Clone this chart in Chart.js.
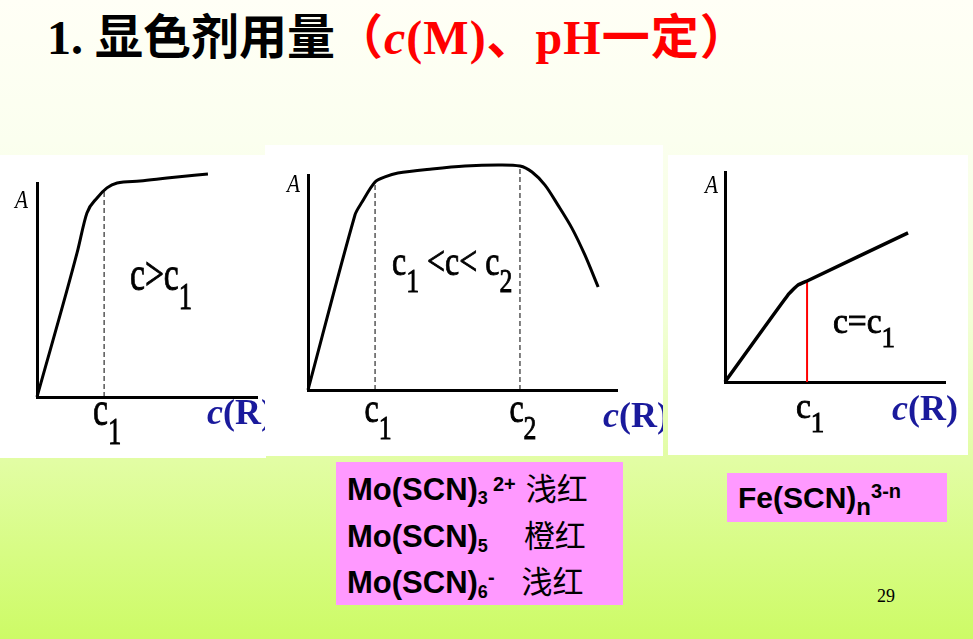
<!DOCTYPE html>
<html>
<head>
<meta charset="utf-8">
<script src="https://cdn.jsdelivr.net/npm/chart.js@4.4.1/dist/chart.umd.min.js"></script>
<style>
html, body { margin: 0; padding: 0; }
body {
    width: 973px; height: 639px; overflow: hidden; position: relative;
    background: linear-gradient(to bottom, #FFFFF6 0%, #FBFFEF 22%, #F2FFD6 50%, #E2FDA4 72%, #CDFB66 100%);
}
.panel { position: absolute; background: #fff; }
.panel canvas { display: block; }
#title {
    position: absolute; left: 47px; top: 12px; white-space: nowrap;
    font: bold 48px "Liberation Serif", "Noto Sans CJK SC"; line-height: 52px; color: #000;
}
#title .red { color: #f00; letter-spacing: 1px; }
.box { position: absolute; background: #FF99FF; }
.ln {
    position: absolute; left: 11px; white-space: nowrap; color: #000;
    font: bold 31px "Liberation Sans", Arial; line-height: 31px;
}
.ln span { line-height: 0; }
.cn { font: 400 31px "Noto Sans CJK SC"; }
#page { position: absolute; left: 877px; top: 586px; font: 18px "Liberation Serif"; color: #000; }
</style>
</head>
<body>

<div id="title">1. 显色剂用量<span class="red">（<i>c</i>(M)、pH一定）</span></div>

<div class="panel" style="left:0;top:155px;width:266px;height:303px;"><canvas id="c1" width="266" height="303"></canvas></div>
<div class="panel" style="left:265px;top:145px;width:398px;height:311px;"><canvas id="c2" width="398" height="311"></canvas></div>
<div class="panel" style="left:668px;top:155px;width:300px;height:300px;"><canvas id="c3" width="300" height="300"></canvas></div>

<div class="box" style="left:336px;top:462px;width:287px;height:143px;">
    <div class="ln" style="top:12px;">Mo(SCN)<span style="font-size:18px;vertical-align:-4px;">3</span><span style="font-size:20px;vertical-align:9px;margin-left:5px;">2+</span><span class="cn" style="margin-left:10px;">浅红</span></div>
    <div class="ln" style="top:59px;">Mo(SCN)<span style="font-size:18px;vertical-align:-5px;">5</span><span class="cn" style="margin-left:36px;">橙红</span></div>
    <div class="ln" style="top:105px;">Mo(SCN)<span style="font-size:18px;vertical-align:-5px;">6</span><span style="font-size:20px;vertical-align:9px;">-</span><span class="cn" style="margin-left:27px;">浅红</span></div>
</div>

<div class="box" style="left:727px;top:473px;width:220px;height:49px;">
    <div class="ln" style="top:10px;font-size:30px;line-height:30px;">Fe(SCN)<span style="font-size:24px;vertical-align:-7px;">n</span><span style="font-size:20px;vertical-align:10px;">3-n</span></div>
</div>

<div id="page">29</div>

<script>
// panel 1: A rises then levels off (c > c1)
const p1CurveX = [0, 1.82, 2.27, 2.73, 3.18, 3.64, 4.68, 5.91, 7.77];
const p1CurveY = [0, 6.73, 8.60, 9.30, 9.77, 10.0, 10.09, 10.23, 10.42];
const p1TickVals = [3.05];
const p1TickTops = [9.67];
const p1TickLabels = ['c_1'];

// panel 2: plateau between c1 and c2, then falls
const p2CurveX = [0, 1.52, 1.75, 2.17, 2.49, 2.91, 4.01, 5.08, 6.15, 6.86, 7.25, 7.67, 8.09, 8.54, 8.96, 9.39];
const p2CurveY = [0, 8.14, 8.74, 9.67, 9.91, 10.09, 10.28, 10.42, 10.47, 10.42, 10.14, 9.53, 8.60, 7.53, 6.28, 4.79];
const p2TickVals = [2.17, 6.86];
const p2TickTops = [9.67, 10.42];
const p2TickLabels = ['c_1', 'c_2'];

// panel 3: break at c1, keeps rising
const p3CurveX = [0, 2.86, 3.3, 3.73, 8.32];
const p3CurveY = [0, 4.14, 4.6, 4.81, 7.10];
const p3TickVals = [3.73];
const p3TickTops = [4.81];
const p3TickLabels = ['c_1'];

const notes = ['c>c_1', 'c_1 <c< c_2', 'c=c_1'];

const toPts = (xs, ys) => xs.map((x, i) => ({x: x, y: ys[i]}));

function drawMath(ctx, str, x, y, size, sx, align) {
    const parts = str.split(/_(\d)/);
    const mainFont = size + 'px "Liberation Serif", serif';
    const subFont = Math.round(size * 0.8) + 'px "Liberation Serif", serif';
    let w = 0;
    parts.forEach((p, i) => { ctx.font = i % 2 ? subFont : mainFont; w += ctx.measureText(p).width; });
    ctx.save();
    ctx.translate(x, y);
    ctx.scale(sx, 1);
    ctx.lineWidth = 0.9;
    ctx.strokeStyle = '#000';
    let cx = align === 'center' ? -w / 2 : 0;
    parts.forEach((p, i) => {
        ctx.font = i % 2 ? subFont : mainFont;
        const dy = i % 2 ? size * 0.4 : 0;
        ctx.fillText(p, cx, dy);
        ctx.strokeText(p, cx, dy);
        cx += ctx.measureText(p).width;
    });
    ctx.restore();
}

function drawCR(ctx, x, y, size) {
    ctx.fillStyle = '#1A1A9C';
    ctx.font = 'italic bold ' + size + 'px "Liberation Serif", serif';
    ctx.fillText('c', x, y);
    const w = ctx.measureText('c').width;
    ctx.font = 'bold ' + size + 'px "Liberation Serif", serif';
    ctx.fillText('(R)', x + w, y);
}

function makeChart(id, cfg) {
    const sets = [{
        data: toPts(cfg.xs, cfg.ys),
        borderColor: '#000', borderWidth: cfg.lineW, tension: cfg.tension,
        cubicInterpolationMode: cfg.mono ? 'monotone' : 'default'
    }];
    cfg.ticks.forEach((t, i) => {
        sets.push({
            data: toPts([t, t], [0, cfg.tops[i]]),
            borderColor: cfg.markColor, borderWidth: cfg.markW, borderDash: cfg.dash, tension: 0
        });
    });
    sets.forEach(s => { s.showLine = true; s.pointRadius = 0; s.clip = false; s.fill = false; });

    const axis = {
        type: 'linear', min: 0, max: 10,
        grid: {display: false, drawTicks: false},
        ticks: {display: false},
        border: {display: true, color: '#000', width: 3}
    };

    return new Chart(document.getElementById(id), {
        type: 'scatter',
        data: {datasets: sets},
        options: {
            responsive: false,
            animation: false,
            events: [],
            layout: {padding: cfg.pad},
            plugins: {legend: {display: false}, tooltip: {enabled: false}},
            scales: {x: Object.assign({}, axis), y: Object.assign({}, axis)}
        },
        plugins: [{
            id: 'sketchText',
            afterDraw(chart) {
                const ctx = chart.ctx;
                const a = chart.chartArea;
                const xs = chart.scales.x;
                ctx.save();
                ctx.textBaseline = 'alphabetic';
                ctx.textAlign = 'left';
                ctx.fillStyle = '#000';
                cfg.ticks.forEach((t, i) => {
                    drawMath(ctx, cfg.labels[i], xs.getPixelForValue(t) + 3, a.bottom + cfg.tickDy, cfg.size, cfg.sx, 'center');
                });
                drawMath(ctx, cfg.note, a.left + cfg.noteAt[0], a.top + cfg.noteAt[1], cfg.size, cfg.sx, 'left');
                ctx.save();
                ctx.translate(a.left + cfg.aAt[0], a.top + cfg.aAt[1]);
                ctx.scale(0.85, 1);
                ctx.font = 'italic 25px "Liberation Serif", serif';
                ctx.fillText('A', 0, 0);
                ctx.restore();
                drawCR(ctx, a.right + cfg.crAt[0], a.bottom + cfg.crAt[1], cfg.crSize);
                ctx.restore();
            }
        }]
    });
}

function buildAll() {
    makeChart('c1', {
        xs: p1CurveX, ys: p1CurveY, ticks: p1TickVals, tops: p1TickTops, labels: p1TickLabels, note: notes[0],
        pad: {left: 37, top: 28, right: 9, bottom: 61},
        lineW: 3, tension: 0.3, mono: true, markColor: '#000', markW: 1, dash: [5, 3],
        size: 48, sx: 0.7, tickDy: 28, noteAt: [93, 107], aAt: [-22, 25], crAt: [-50, 27], crSize: 36
    });

    makeChart('c2', {
        xs: p2CurveX, ys: p2CurveY, ticks: p2TickVals, tops: p2TickTops, labels: p2TickLabels, note: notes[1],
        pad: {left: 43, top: 30, right: 46, bottom: 66},
        lineW: 3, tension: 0.3, mono: false, markColor: '#000', markW: 1, dash: [5, 3],
        size: 42, sx: 0.76, tickDy: 32, noteAt: [84, 100], aAt: [-21, 17], crAt: [-14, 37], crSize: 36
    });

    makeChart('c3', {
        xs: p3CurveX, ys: p3CurveY, ticks: p3TickVals, tops: p3TickTops, labels: p3TickLabels, note: notes[2],
        pad: {left: 57, top: 17, right: 23, bottom: 73},
        lineW: 3.5, tension: 0.15, mono: false, markColor: '#FF0000', markW: 2, dash: [],
        size: 36, sx: 0.93, tickDy: 36, noteAt: [108, 161], aAt: [-20, 21], crAt: [-53, 38], crSize: 36
    });
}

Promise.all([
    document.fonts.load('48px "Liberation Serif"'),
    document.fonts.load('italic 25px "Liberation Serif"'),
    document.fonts.load('italic bold 36px "Liberation Serif"'),
    document.fonts.load('bold 36px "Liberation Serif"')
]).then(buildAll, buildAll);
</script>
</body>
</html>
